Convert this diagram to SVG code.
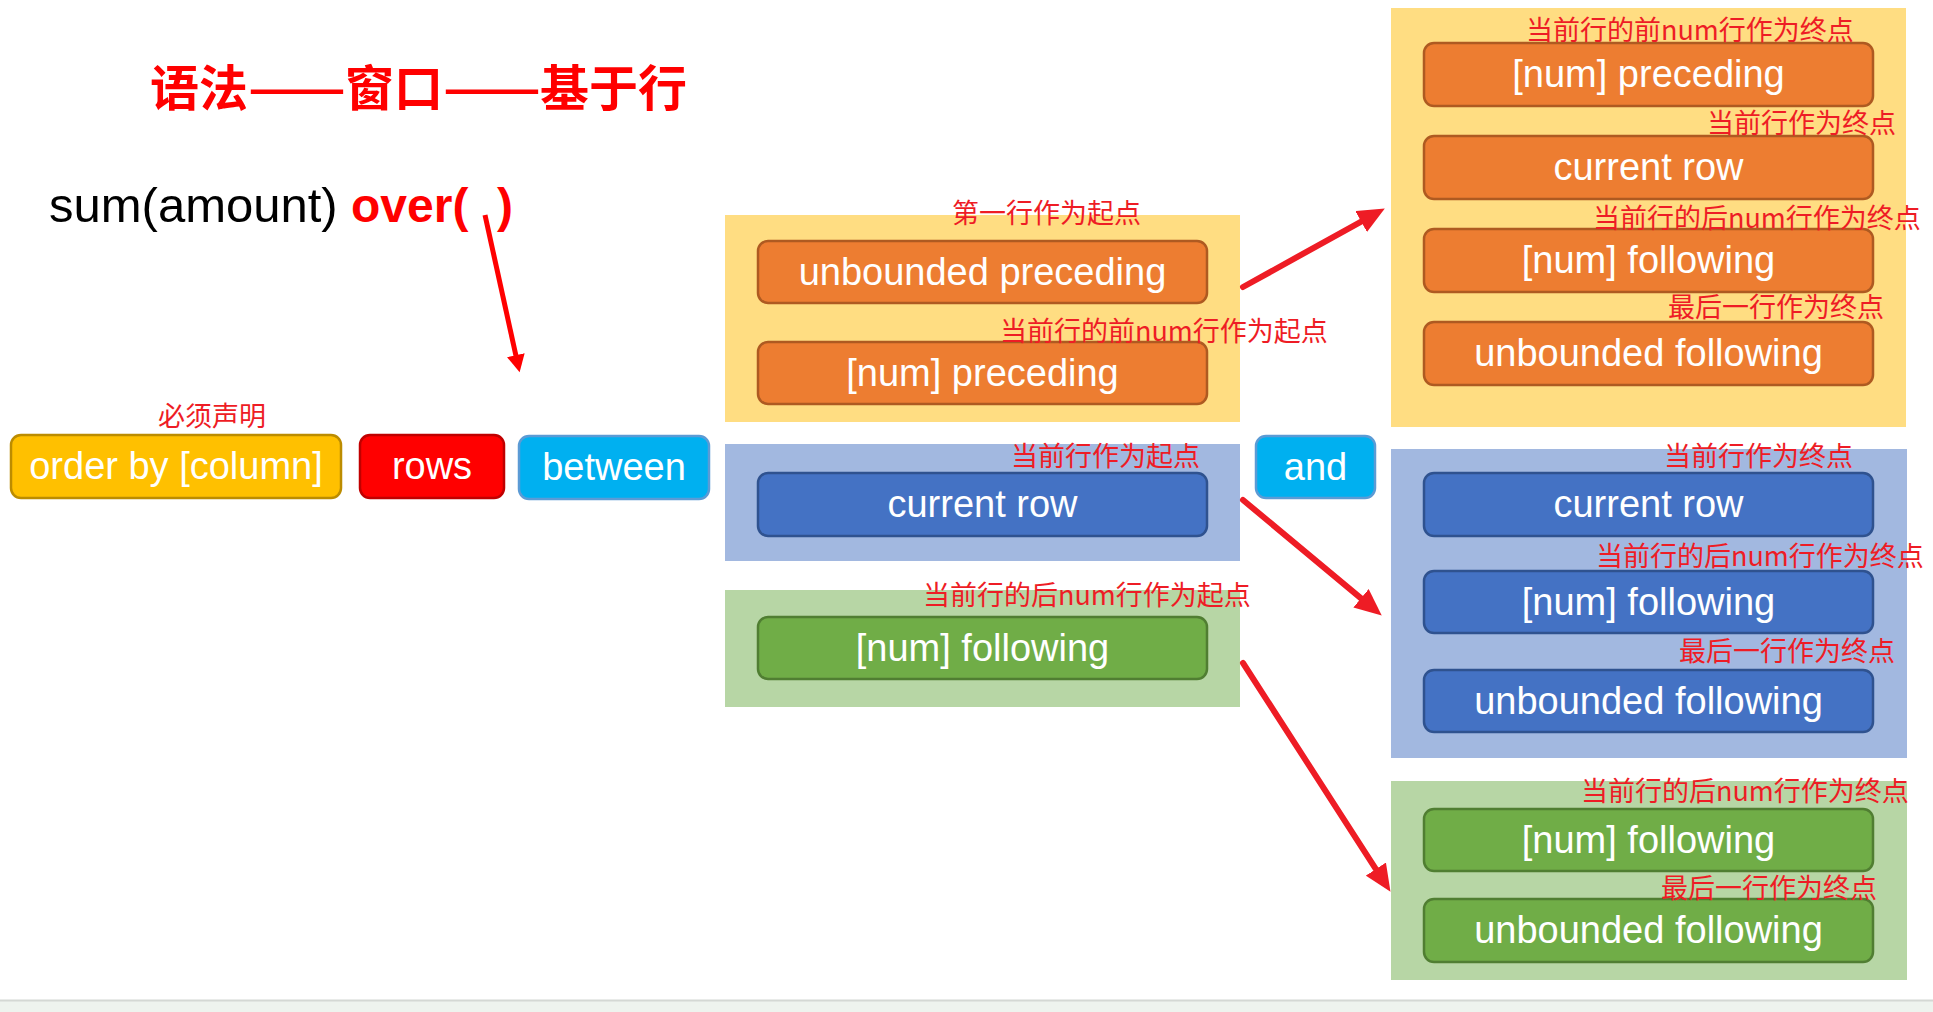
<svg xmlns="http://www.w3.org/2000/svg" width="1933" height="1012" viewBox="0 0 1933 1012">
  <style>
    .box { stroke-width: 2.5; }
    .btxt { font-family: "Liberation Sans", Arial, sans-serif; font-size: 38px; fill: #FFFFFF; text-anchor: middle; }
    .lbl { font-family: "Noto Sans CJK SC", "Liberation Sans", sans-serif; font-size: 27px; fill: #EE1C25; }
    .ttl { font-family: "Noto Sans CJK SC", sans-serif; font-size: 49px; font-weight: 700; fill: #FF0000; }
    .orange { fill: #ED7D31; stroke: #AE5A21; }
    .blue { fill: #4472C4; stroke: #2F528F; }
    .green { fill: #70AD47; stroke: #507E32; }
    .pan-y { fill: #FFDD82; }
    .pan-b { fill: #A2B8E0; }
    .pan-g { fill: #B7D6A5; }
    .conn { fill: none; stroke: #EE1C25; stroke-width: 6; stroke-linecap: round; }
  </style>
  <defs>
    <marker id="head" markerUnits="userSpaceOnUse" markerWidth="27" markerHeight="24" viewBox="0 0 26 23" refX="2" refY="11.5" orient="auto">
      <path d="M0,0 L26,11.5 L0,23 Z" fill="#EE1C25"/>
    </marker>
    <marker id="head-small" markerUnits="userSpaceOnUse" markerWidth="18" markerHeight="18" viewBox="0 0 17 17.5" refX="2" refY="8.75" orient="auto">
      <path d="M0,0 L17,8.75 L0,17.5 Z" fill="#FF0000"/>
    </marker>
  </defs>

  <rect width="1933" height="1012" fill="#FFFFFF"/>
  <!-- bottom strip -->
  <rect x="0" y="1001" width="1933" height="11" fill="#EEF3EE"/>
  <line x1="0" y1="1000.5" x2="1933" y2="1000.5" stroke="#D4D8D4" stroke-width="2"/>

  <!-- heading: each dash run stretched to two full character cells -->
  <g id="title">
    <text class="ttl" x="150" y="106">语法</text>
    <text class="ttl" x="248" y="106" textLength="98" lengthAdjust="spacingAndGlyphs">——</text>
    <text class="ttl" x="345" y="106">窗口</text>
    <text class="ttl" x="443" y="106" textLength="98" lengthAdjust="spacingAndGlyphs">——</text>
    <text class="ttl" x="540" y="106">基于行</text>
  </g>

  <!-- expression -->
  <g id="expr">
    <text y="222" font-family="Liberation Sans, Arial, sans-serif" font-size="48"><tspan x="49" fill="#000000" font-size="49">sum(amount)</tspan><tspan x="351" fill="#FF0000" font-weight="700">over(</tspan><tspan x="497" fill="#FF0000" font-weight="700">)</tspan></text>
  </g>

  <!-- first row of keywords -->
  <g id="order-by">
    <text class="lbl" x="158" y="426" font-size="26">必须声明</text>
    <rect class="box" x="11" y="435" width="330" height="63" rx="10" fill="#FFC000" stroke="#BC8C00"/>
    <text class="btxt" x="176" y="479">order by [column]</text>
  </g>
  <g id="rows">
    <rect class="box" x="360" y="435" width="144" height="63" rx="10" fill="#FF0000" stroke="#C00000"/>
    <text class="btxt" x="432" y="479">rows</text>
  </g>
  <g id="between">
    <rect class="box" x="519" y="436" width="190" height="63" rx="10" fill="#00B0F0" stroke="#5B9BD5"/>
    <text class="btxt" x="614" y="480">between</text>
  </g>
  <g id="and">
    <rect class="box" x="1256" y="436" width="119" height="62" rx="10" fill="#00B0F0" stroke="#5B9BD5"/>
    <text class="btxt" x="1315.5" y="480">and</text>
  </g>

  <!-- start bound options -->
  <g id="start-preceding">
    <rect class="pan-y" x="725" y="215" width="515" height="207"/>
    <text class="lbl" x="952" y="223">第一行作为起点</text>
    <rect class="box orange" x="758" y="241" width="449" height="62" rx="10"/>
    <text class="btxt" x="982.5" y="285">unbounded preceding</text>
    <rect class="box orange" x="758" y="342" width="449" height="62" rx="10"/>
    <text class="btxt" x="982.5" y="386">[num] preceding</text>
    <text class="lbl" x="1000" y="341">当前行的前num行作为起点</text>
  </g>
  <g id="start-current">
    <rect class="pan-b" x="725" y="444" width="515" height="117"/>
    <rect class="box blue" x="758" y="473" width="449" height="63" rx="10"/>
    <text class="btxt" x="982.5" y="517">current row</text>
    <text class="lbl" x="1011" y="466">当前行作为起点</text>
  </g>
  <g id="start-following">
    <rect class="pan-g" x="725" y="590" width="515" height="117"/>
    <rect class="box green" x="758" y="617" width="449" height="62" rx="10"/>
    <text class="btxt" x="982.5" y="661">[num] following</text>
    <text class="lbl" x="923" y="605">当前行的后num行作为起点</text>
  </g>

  <!-- end bound options -->
  <g id="end-after-preceding">
    <rect class="pan-y" x="1391" y="8" width="515" height="419"/>
    <rect class="box orange" x="1424" y="43" width="449" height="63" rx="10"/>
    <text class="btxt" x="1648.5" y="87">[num] preceding</text>
    <rect class="box orange" x="1424" y="136" width="449" height="63" rx="10"/>
    <text class="btxt" x="1648.5" y="180">current row</text>
    <rect class="box orange" x="1424" y="229" width="449" height="63" rx="10"/>
    <text class="btxt" x="1648.5" y="273">[num] following</text>
    <rect class="box orange" x="1424" y="322" width="449" height="63" rx="10"/>
    <text class="btxt" x="1648.5" y="366">unbounded following</text>
    <text class="lbl" x="1526" y="40">当前行的前num行作为终点</text>
    <text class="lbl" x="1707" y="133">当前行作为终点</text>
    <text class="lbl" x="1593" y="228">当前行的后num行作为终点</text>
    <text class="lbl" x="1668" y="317">最后一行作为终点</text>
  </g>
  <g id="end-after-current">
    <rect class="pan-b" x="1391" y="449" width="516" height="309"/>
    <rect class="box blue" x="1424" y="473" width="449" height="63" rx="10"/>
    <text class="btxt" x="1648.5" y="517">current row</text>
    <rect class="box blue" x="1424" y="571" width="449" height="62" rx="10"/>
    <text class="btxt" x="1648.5" y="615">[num] following</text>
    <rect class="box blue" x="1424" y="670" width="449" height="62" rx="10"/>
    <text class="btxt" x="1648.5" y="714">unbounded following</text>
    <text class="lbl" x="1664" y="466">当前行作为终点</text>
    <text class="lbl" x="1596" y="566">当前行的后num行作为终点</text>
    <text class="lbl" x="1679" y="661">最后一行作为终点</text>
  </g>
  <g id="end-after-following">
    <rect class="pan-g" x="1391" y="781" width="516" height="199"/>
    <rect class="box green" x="1424" y="809" width="449" height="62" rx="10"/>
    <text class="btxt" x="1648.5" y="853">[num] following</text>
    <rect class="box green" x="1424" y="899" width="449" height="63" rx="10"/>
    <text class="btxt" x="1648.5" y="943">unbounded following</text>
    <text class="lbl" x="1581" y="801">当前行的后num行作为终点</text>
    <text class="lbl" x="1661" y="898">最后一行作为终点</text>
  </g>

  <!-- connectors -->
  <g id="connectors">
    <path d="M485,215 L516.3,357.3" fill="none" stroke="#FF0000" stroke-width="5" marker-end="url(#head-small)"/>
    <path class="conn" d="M1243,287 L1363,220.6" marker-end="url(#head)"/>
    <path class="conn" d="M1243,500 L1362.6,599.6" marker-end="url(#head)"/>
    <path class="conn" d="M1243,663 L1377,870.8" marker-end="url(#head)"/>
  </g>
</svg>
